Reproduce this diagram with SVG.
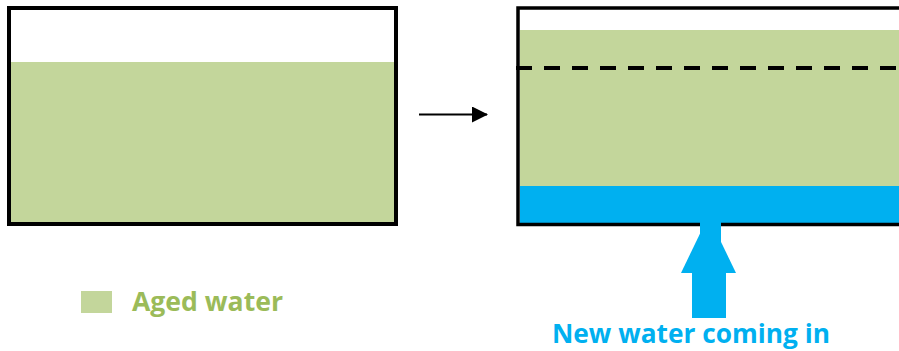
<svg xmlns="http://www.w3.org/2000/svg" width="899" height="351" viewBox="0 0 899 351">
<style>
.aged{fill:#C3D69B}
.fresh{fill:#00B0F0}
.frame{fill:none;stroke:#000}
.lbl{font-family:"Open Sans","Noto Sans","Liberation Sans",sans-serif;font-weight:bold}
</style>
<defs>
<marker id="ah" markerWidth="8" markerHeight="8" refX="7.5" refY="4" orient="auto" markerUnits="strokeWidth">
<path d="M0,0 L8,4 L0,8 Z" fill="#000"/>
</marker>
</defs>
<g id="tank-before">
<rect class="aged" x="11" y="62" width="384" height="160"/>
<rect class="frame" x="9" y="8" width="387" height="216" stroke-width="4"/>
</g>
<g id="tank-after">
<rect class="aged" x="520" y="30" width="379" height="156"/>
<rect class="fresh" x="520" y="186" width="379" height="37"/>
<rect class="frame" x="518" y="8" width="400" height="216.5" stroke-width="3.5"/>
<line x1="516" y1="68" x2="899" y2="68" stroke="#000" stroke-width="4" stroke-dasharray="16 12"/>
</g>
<g id="inflow-arrow">
<rect class="fresh" x="700" y="222" width="21" height="26"/>
<polygon class="fresh" points="708.5,216 736,273 681,273"/>
<rect class="fresh" x="692" y="272" width="34" height="46"/>
</g>
<g id="legend">
<rect class="aged" x="81" y="291" width="31" height="22"/>
<text class="lbl" x="132" y="311" font-size="27" fill="#9BBB59" textLength="151" lengthAdjust="spacingAndGlyphs">Aged water</text>
</g>
<g id="new-water-label">
<text class="lbl" x="552" y="343" font-size="27" fill="#00B0F0" textLength="278" lengthAdjust="spacingAndGlyphs">New water coming in</text>
</g>
<g id="connectors">
<line x1="419" y1="114.5" x2="487" y2="114.5" stroke="#000" stroke-width="2" marker-end="url(#ah)"/>
</g>
</svg>
